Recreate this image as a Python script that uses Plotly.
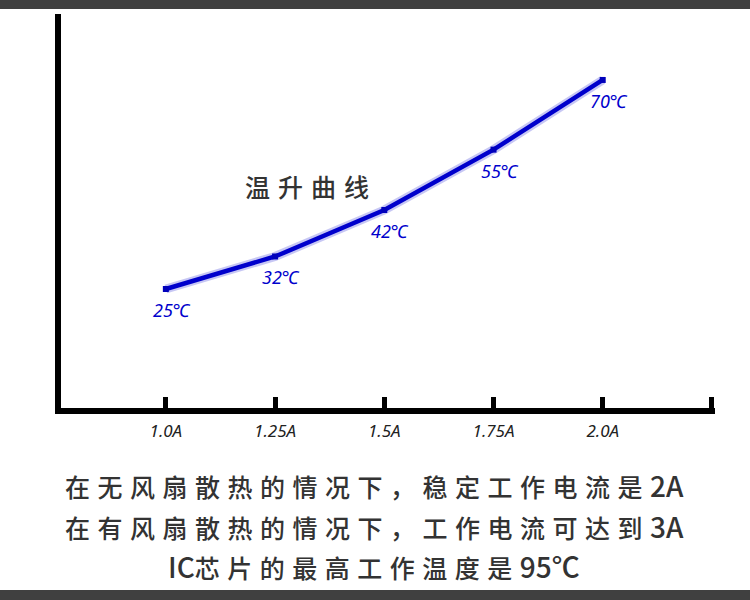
import plotly.graph_objects as go

# chart data
currents = [1.0, 1.25, 1.5, 1.75, 2.0]
temps = [25, 32, 42, 55, 70]
tick_vals = [1.0, 1.25, 1.5, 1.75, 2.0, 2.25]
tick_text = ["1.0A", "1.25A", "1.5A", "1.75A", "2.0A", ""]
point_labels = [f"{t}℃" for t in temps]
curve_title = "温升曲线"
notes = [
    ("在无风扇散热的情况下，稳定工作电流是", "2A"),
    ("在有风扇散热的情况下，工作电流可达到", "3A"),
    ("IC", "芯片的最高工作温度是95℃"),
]

W, H = 750, 600
L, R, T, B = 61, 35, 14, 192

BLUE = "#0000cc"
TEXT = "#333333"
BAR = "#404040"


def px_x(x):
    return (x - L) / (W - L - R)


def px_y(y):
    return (H - B - y) / (H - T - B)


def spaced(s, px):
    return f'<span style="letter-spacing:{px}px">{s}</span>'


def latin(s):
    return f'<span style="font-size:28px">{s}</span>'


fig = go.Figure()

# soft glow under the line
fig.add_trace(go.Scatter(
    x=currents, y=temps, mode="lines",
    line=dict(color="rgba(0,0,204,0.22)", width=9),
    hoverinfo="skip",
))
fig.add_trace(go.Scatter(
    x=currents, y=temps, mode="lines+markers",
    line=dict(color=BLUE, width=4.5),
    marker=dict(symbol="square", size=6, color="#0000bb"),
))

for x, y, lab in zip(currents, temps, point_labels):
    fig.add_annotation(
        x=x, y=y, text=lab, showarrow=False,
        xshift=6, yshift=-21,
        font=dict(family="Noto Sans, Noto Sans CJK SC", size=18,
                  color=BLUE, style="italic"),
    )

fig.add_annotation(
    x=px_x(311), y=px_y(186), xref="paper", yref="paper",
    xanchor="center", yanchor="middle",
    text=spaced(curve_title, 8),
    showarrow=False,
    font=dict(family="Noto Sans CJK SC", size=25, color=TEXT, weight=500),
)

for yy, (a, b) in zip([485, 526, 566], notes):
    if a == "IC":
        txt = latin(a) + spaced(b[:-3], 7.5) + latin(b[-3:])
    else:
        txt = spaced(a, 7.5) + latin(b)
    fig.add_annotation(
        x=px_x(374), y=px_y(yy), xref="paper", yref="paper",
        xanchor="center", yanchor="middle",
        text=txt, showarrow=False,
        font=dict(family="Noto Sans CJK SC", size=25, color=TEXT, weight=500),
    )

# dark bands at top and bottom
for y0, y1 in [(0, 9), (590, 600)]:
    fig.add_shape(
        type="rect", xref="paper", yref="paper",
        x0=px_x(0), x1=px_x(W), y0=px_y(y1), y1=px_y(y0),
        fillcolor=BAR, line=dict(width=0), layer="above",
    )

fig.update_layout(
    width=W, height=H,
    margin=dict(l=L, r=R, t=T, b=B),
    paper_bgcolor="white", plot_bgcolor="white",
    showlegend=False,
    xaxis=dict(
        range=[0.760, 2.257], tickvals=tick_vals, ticktext=tick_text,
        showgrid=False, zeroline=False,
        showline=True, linecolor="black", linewidth=6,
        ticks="inside", ticklen=11, tickwidth=5, tickcolor="black",
        ticklabelstandoff=3,
        tickfont=dict(family="Noto Sans", size=17, color="#222222",
                      style="italic"),
    ),
    yaxis=dict(
        range=[-0.62, 84.2], showgrid=False, zeroline=False,
        showticklabels=False, ticks="",
        showline=True, linecolor="black", linewidth=6,
    ),
)

fig.write_html(
    "out.html",
    config={"displayModeBar": False},
    post_script="document.body.style.margin='0';",
)
